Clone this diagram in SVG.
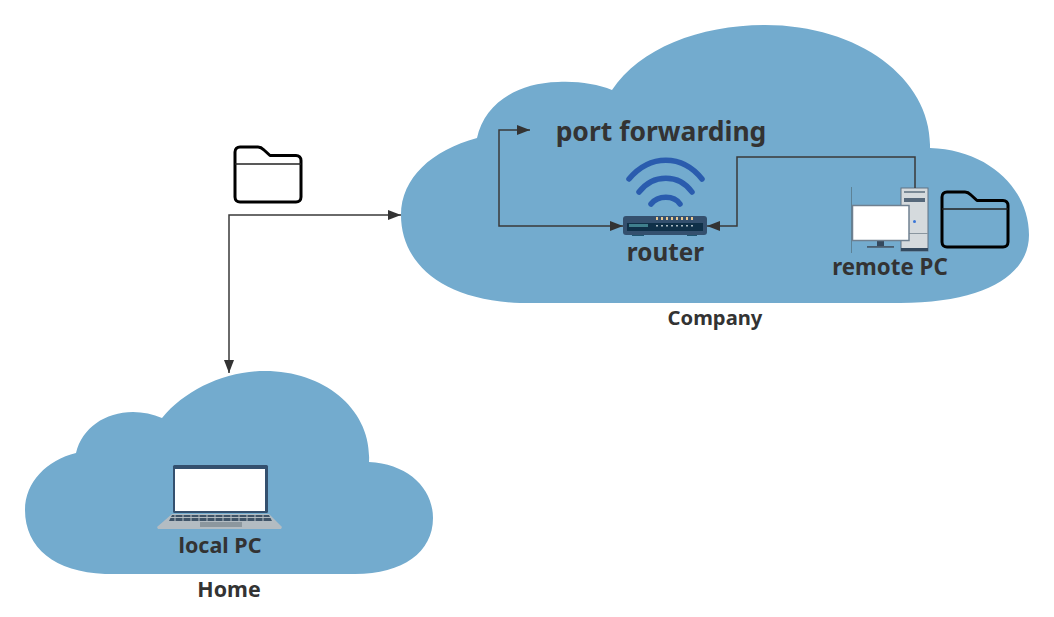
<svg xmlns="http://www.w3.org/2000/svg" width="1054" height="617" viewBox="0 0 1054 617">
<style>
.cloud{fill:#73abce}
.t{font-family:"Noto Sans","Open Sans","Liberation Sans",sans-serif;font-weight:700;fill:#333}
.c{fill:none;stroke:#3a3a3a;stroke-width:1.5}
.f{fill:none;stroke:#000;stroke-width:3;stroke-linejoin:round}
.fl{fill:none;stroke:#222;stroke-width:1.6}
.w{fill:none;stroke:#2a5cae;stroke-width:5.500;stroke-linecap:round}
</style>
<defs>
<marker id="a" markerUnits="userSpaceOnUse" markerWidth="14" markerHeight="12" refX="13" refY="5" orient="auto-start-reverse"><path d="M0 0L13 5L0 10Z" fill="#333"/></marker>
<g id="folder"><path class="f" d="M6 0H24C27 0 28 1 30 3L36 8.500H62C65 8.500 67 10.500 67 13.500V50C67 53 65 55 62 55H6C3 55 1 53 1 50V5C1 2 3 0 6 0Z"/><path class="fl" d="M1 17H67"/></g>
</defs>
<g id="company">
<path class="cloud" d="M520 303C440 300 401 262 401 215C401 178 432 150 477 138C484 105 515 83 558 82C578 81 597 84 612 90C640 48 700 25 765 25C860 25 932 80 930 148C990 150 1029 190 1029 235C1029 275 985 303 900 303Z"/>
<text class="t" x="715" y="325" font-size="20.200" text-anchor="middle">Company</text>
</g>
<g id="home">
<path class="cloud" d="M105 574C55 572 25 548 25 510C25 482 47 460 76 453C82 428 105 412 133 412C143 412 153 414 162 418C185 390 225 371 265 371C325 371 372 410 369 462C408 464 433 488 433 518C433 552 403 574 355 574Z"/>
<text class="t" x="229" y="597" font-size="21.400" text-anchor="middle">Home</text>
</g>
<g id="router">
<path class="w" d="M629 179C650 154 682 154 702 179"/>
<path class="w" d="M639 192C653 173.500 679 173.500 692 192"/>
<path class="w" d="M651 204C658 195 674 195 680 204"/>
<rect x="632" y="234" width="12" height="2" fill="#1f5570"/><rect x="687" y="234" width="10" height="2" fill="#1f5570"/>
<rect x="623" y="216" width="84" height="19" rx="3" fill="#34506e"/>
<rect x="627" y="223" width="76" height="8" fill="#0f3048"/>
<rect x="629" y="224" width="19" height="3" fill="#3f7f8c"/>
<path d="M657 217V220M662 217V220M667 217V220M672 217V220M677 217V220M682 217V220M687 217V220M692 217V220" stroke="#e8c690" stroke-width="2"/>
<path d="M657 225V226.500M662 225V226.500M667 225V226.500M672 225V226.500M677 225V226.500M682 225V226.500M687 225V226.500M692 225V226.500" stroke="#dfe8ec" stroke-width="1.500"/>
<text class="t" x="665.500" y="261" font-size="24.300" text-anchor="middle">router</text>
</g>
<g id="port-forwarding"><text class="t" x="661" y="141" font-size="26.500" text-anchor="middle">port forwarding</text></g>
<g id="remote-pc">
<path d="M851.500 187V253" stroke="#5d8296" fill="none"/>
<rect x="901" y="188" width="27" height="63" fill="#d5dadd" stroke="#607383" stroke-width="1"/>
<rect x="901" y="248" width="27" height="3" fill="#34495e"/>
<rect x="904" y="191" width="21" height="2" fill="#7b8a96"/>
<rect x="904" y="198" width="21" height="4" fill="#56687a"/>
<path d="M901 233.500H928" stroke="#8a969f" stroke-width="1"/>
<circle cx="914.500" cy="221.500" r="1.500" fill="#3a76d8"/>
<rect x="877" y="240" width="7" height="6" fill="#34495e"/>
<rect x="867" y="246" width="27" height="1.800" fill="#4a5d6e"/>
<rect x="852.500" y="205.500" width="56.500" height="35" fill="#fff" stroke="#6f8090" stroke-width="1.500"/>
<text class="t" x="890" y="275" font-size="22.300" text-anchor="middle">remote PC</text>
</g>
<use id="folder-remote" href="#folder" x="941" y="192"/>
<use id="folder-local" href="#folder" x="234" y="147"/>
<g id="local-pc">
<rect x="173" y="465" width="95" height="48" rx="1.500" fill="#34506e"/>
<rect x="175" y="469" width="90" height="42" fill="#fff"/>
<path d="M172 514H269L282 527L281 529H158L157 527Z" fill="#b3bcc2"/>
<path d="M172 515H269L272 521H169Z" fill="#3f5468"/>
<path d="M170 517.500H271M175 515V521M183 515V521M191 515V521M199 515V521M207 515V521M215 515V521M223 515V521M231 515V521M239 515V521M247 515V521M255 515V521M263 515V521" stroke="#b3bcc2" stroke-width="1" fill="none"/>
<rect x="200" y="522" width="42" height="5" fill="#8c979e"/>
<text class="t" x="220" y="553" font-size="21.500" text-anchor="middle">local PC</text>
</g>
<g id="connectors">
<path class="c" marker-start="url(#a)" marker-end="url(#a)" d="M229 373V215H401"/>
<path class="c" marker-start="url(#a)" marker-end="url(#a)" d="M530 130H499V226H623"/>
<path class="c" marker-end="url(#a)" d="M915 188V157H737V226H707"/>
</g>
</svg>
